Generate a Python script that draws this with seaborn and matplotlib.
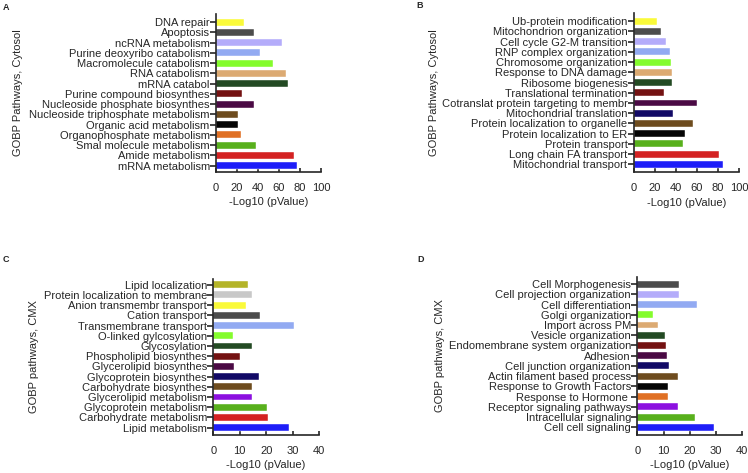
import pandas as pd
import matplotlib
matplotlib.use("Agg")
import matplotlib.pyplot as plt
import seaborn as sns

# colours used by the panels
BLUE = "#1e1ef8"
RED = "#d42222"
GREEN = "#58b01c"
ORANGE = "#e07024"
BLACK = "#050505"
BROWN = "#6e4c1e"
NAVY = "#120a66"
DPURPLE = "#4a0a44"
DRED = "#741212"
DGREEN = "#234a23"
TAN = "#dcaa72"
LIME = "#84fc2c"
LBLUE = "#92aaf2"
LAVENDER = "#b4acfa"
DGRAY = "#4c4c4c"
YELLOW = "#fafa3a"
PURPLE = "#8c10e0"
LGRAY = "#c8c8c8"
OLIVE = "#b4b428"

# panel A (top to bottom)
a_terms = ["DNA repair", "Apoptosis", "ncRNA metabolism", "Purine deoxyribo catabolism",
           "Macromolecule catabolism", "RNA catabolism", "mRNA catabol",
           "Purine compound biosynthes", "Nucleoside phosphate biosynthes",
           "Nucleoside triphosphate metabolism", "Organic acid metabolism",
           "Organophosphate metabolism", "Smal molecule metabolism",
           "Amide metabolism", "mRNA metabolism"]
a_vals = [27, 36, 63, 42, 54, 67, 69, 25, 36, 21, 21, 23.5, 38, 74, 77]
a_cols = [YELLOW, DGRAY, LAVENDER, LBLUE, LIME, TAN, DGREEN, DRED, DPURPLE,
          BROWN, BLACK, ORANGE, GREEN, RED, BLUE]

# panel B
b_terms = ["Ub-protein modification", "Mitochondrion organization",
           "Cell cycle G2-M transition", "RNP complex organization",
           "Chromosome organization", "Response to DNA damage",
           "Ribosome biogenesis", "Translational termination",
           "Cotranslat protein targeting to membr", "Mitochondrial translation",
           "Protein localization to organelle", "Protein localization to ER",
           "Protein transport", "Long chain FA transport", "Mitochondrial transport"]
b_vals = [22.5, 26, 30.5, 34.5, 35, 36, 36, 29, 60, 37, 56, 48.5, 47, 81, 85]
b_cols = [YELLOW, DGRAY, LAVENDER, LBLUE, LIME, TAN, DGREEN, DRED, DPURPLE,
          NAVY, BROWN, BLACK, GREEN, RED, BLUE]

# panel C
c_terms = ["Lipid localization", "Protein localization to membrane",
           "Anion transmembr transport", "Cation transport",
           "Transmembrane transport", "O-linked gylcosylation", "Glycosylation",
           "Phospholipid biosynthes", "Glycerolipid biosynthes",
           "Glycoprotein biosynthes", "Carbohydrate biosynthes",
           "Glycerolipid metabolism", "Glycoprotein metabolism",
           "Carbohydrate metabolism", "Lipid metabolism"]
c_vals = [13, 14.5, 12.5, 17.5, 30.4, 7.3, 14.6, 10, 8, 17.4, 14.5, 14.5, 20.3, 20.8, 28.8]
c_cols = [OLIVE, LGRAY, YELLOW, DGRAY, LBLUE, LIME, DGREEN, DRED, DPURPLE,
          NAVY, BROWN, PURPLE, GREEN, RED, BLUE]

# panel D
d_terms = ["Cell Morphogenesis", "Cell projection organization",
           "Cell differentiation", "Golgi organization", "Import across PM",
           "Vesicle organization", "Endomembrane system organization", "Adhesion",
           "Cell junction organization", "Actin filament based process",
           "Response to Growth Factors", "Response to Hormone ",
           "Receptor signaling pathways", "Intracellular signaling",
           "Cell cell signaling"]
d_vals = [15.7, 16, 22.9, 6.1, 7.9, 10.4, 10.8, 11.3, 12.1, 15.5, 11.6, 11.6, 15.6, 22.1, 29.1]
d_cols = [DGRAY, LAVENDER, LBLUE, LIME, TAN, DGREEN, DRED, DPURPLE, NAVY,
          BROWN, BLACK, ORANGE, PURPLE, GREEN, BLUE]

sns.set_style("ticks")
plt.rcParams["font.family"] = ["Liberation Sans", "DejaVu Sans"]
FS = 8

fig = plt.figure(figsize=(7.48, 4.73), dpi=100)

W, H = 748.0, 473.0
panels = [
    # terms, vals, cols, (left, right, top, bottom px), xmax, step, ylabel, ylabel x px, ylim
    (a_terms, a_vals, a_cols, (216, 321, 14, 172), 100, 20, "GOBP Pathways, Cytosol", 23, (14.62, -0.8), "A", (3, 8)),
    (b_terms, b_vals, b_cols, (633.7, 739, 13.5, 172.3), 100, 20, "GOBP Pathways, Cytosol", 439, (14.78, -0.76), "B", (416, 6)),
    (c_terms, c_vals, c_cols, (213.3, 319, 278.7, 435), 40, 10, "GOBP pathways, CMX", 39, (14.72, -0.59), "C", (3, 259)),
    (d_terms, d_vals, d_cols, (637.3, 742.3, 276.7, 435), 40, 10, "GOBP pathways, CMX", 445, (14.75, -0.72), "D", (417, 259)),
]

for terms, vals, cols, box, xmax, step, ylab, ylx, ylim, letter, lpos in panels:
    l, r, t, b = box
    ax = fig.add_axes([l / W, 1 - b / H, (r - l) / W, (b - t) / H])
    df = pd.DataFrame({"term": terms, "val": vals})
    sns.barplot(data=df, x="val", y="term", hue="term", palette=cols,
                saturation=1, legend=False, orient="h", width=0.68, ax=ax,
                edgecolor="white", linewidth=0.3)
    ax.set_xlim(0, xmax)
    ax.set_xticks(range(0, xmax + 1, step))
    ax.set_ylim(*ylim)
    sns.despine(ax=ax)
    for s in ["left", "bottom"]:
        ax.spines[s].set_linewidth(1.2)
    ax.tick_params(axis="y", length=4, width=1.2, pad=0.5, labelsize=FS)
    ax.tick_params(axis="x", direction="in", length=3, width=1.2, pad=8, labelsize=FS)
    ax.set_xlabel("-Log10 (pValue)", fontsize=FS, labelpad=3)
    ax.set_ylabel(ylab, fontsize=FS)
    ax.yaxis.set_label_coords((ylx - l) / (r - l), 0.5)
    fig.text(lpos[0] / W, 1 - lpos[1] / H, letter, fontsize=6.5, fontweight="bold",
             va="center", ha="left")

fig.savefig("out.png", dpi=100)
